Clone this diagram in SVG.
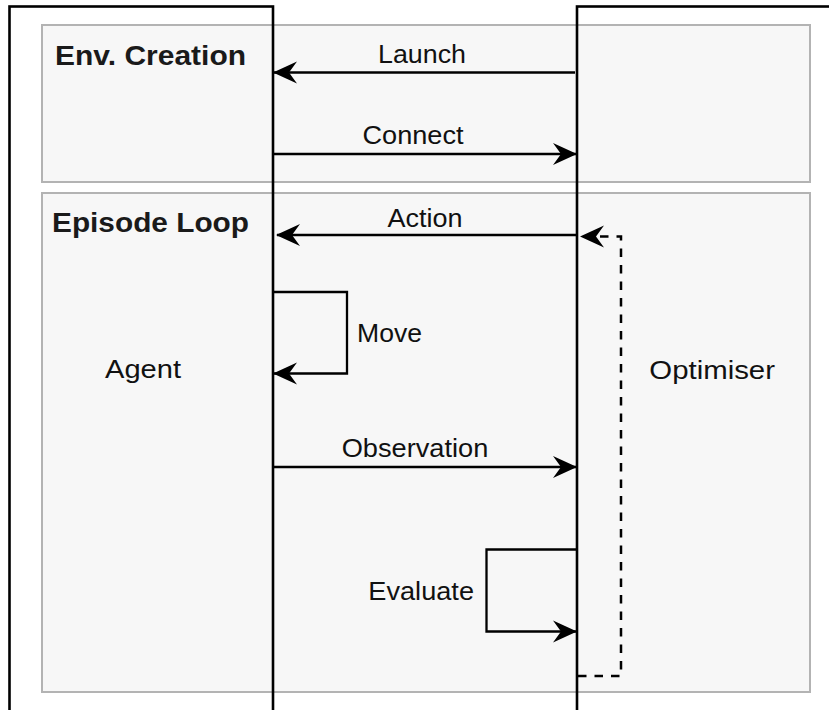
<svg xmlns="http://www.w3.org/2000/svg" width="829" height="710" viewBox="0 0 829 710">
  <style>
    .frame { fill: #f7f7f7; stroke: #b3b3b3; stroke-width: 2; }
    .lifeline { fill: none; stroke: #000; stroke-width: 2.6; }
    .msg { fill: none; stroke: #000; stroke-width: 2.3; }
    .ret { fill: none; stroke: #000; stroke-width: 2.5; stroke-dasharray: 8.5 8; }
    .lbl { font-family: "Liberation Sans", Arial, Helvetica, sans-serif; font-size: 26.5px; fill: #111; }
    .title { font-family: "Liberation Sans", Arial, Helvetica, sans-serif; font-size: 28px; font-weight: bold; fill: #1a1a1a; }
  </style>
  <defs>
    <marker id="head" viewBox="0 0 24 24" refX="23" refY="12" markerWidth="24" markerHeight="24" markerUnits="userSpaceOnUse" orient="auto">
      <path d="M0,1 L24,12 L0,23 L8,12 Z" fill="#000"/>
    </marker>
  </defs>

  <!-- phase frames -->
  <g id="env-creation">
    <rect class="frame" x="42" y="25" width="768" height="157"/>
    <text class="title" x="55" y="65" textLength="191" lengthAdjust="spacingAndGlyphs">Env. Creation</text>
  </g>
  <g id="episode-loop">
    <rect class="frame" x="42" y="193" width="768" height="499"/>
    <text class="title" x="52" y="232" textLength="197" lengthAdjust="spacingAndGlyphs">Episode Loop</text>
  </g>

  <!-- participants -->
  <g id="agent">
    <rect class="lifeline" x="9.5" y="6.5" width="263.5" height="740"/>
    <text class="lbl" x="105" y="378.3" textLength="76" lengthAdjust="spacingAndGlyphs">Agent</text>
  </g>
  <g id="optimiser">
    <rect class="lifeline" x="577" y="6.5" width="300" height="740"/>
    <text class="lbl" x="649.3" y="379.3" textLength="125.7" lengthAdjust="spacingAndGlyphs">Optimiser</text>
  </g>

  <!-- messages -->
  <g id="connectors">
    <path class="msg" d="M575,72.5 H274" marker-end="url(#head)"/>
    <path class="msg" d="M273,154 H576" marker-end="url(#head)"/>
    <path class="msg" d="M577,235 H277" marker-end="url(#head)"/>
    <path class="msg" d="M273,292 H347 V373.5 H274" marker-end="url(#head)"/>
    <path class="msg" d="M273,467 H576" marker-end="url(#head)"/>
    <path class="msg" d="M577,549.5 H486.5 V631.5 H576" marker-end="url(#head)"/>
    <path class="ret" d="M578,676 H621 V236.5 H581" marker-end="url(#head)"/>

    <text class="lbl" x="378" y="63.3" textLength="88" lengthAdjust="spacingAndGlyphs">Launch</text>
    <text class="lbl" x="362.5" y="144.3" textLength="101" lengthAdjust="spacingAndGlyphs">Connect</text>
    <text class="lbl" x="387.5" y="226.7" textLength="75" lengthAdjust="spacingAndGlyphs">Action</text>
    <text class="lbl" x="357" y="342.3" textLength="65" lengthAdjust="spacingAndGlyphs">Move</text>
    <text class="lbl" x="341.7" y="457.3" textLength="146.6" lengthAdjust="spacingAndGlyphs">Observation</text>
    <text class="lbl" x="368.3" y="600" textLength="105.7" lengthAdjust="spacingAndGlyphs">Evaluate</text>
  </g>
</svg>
